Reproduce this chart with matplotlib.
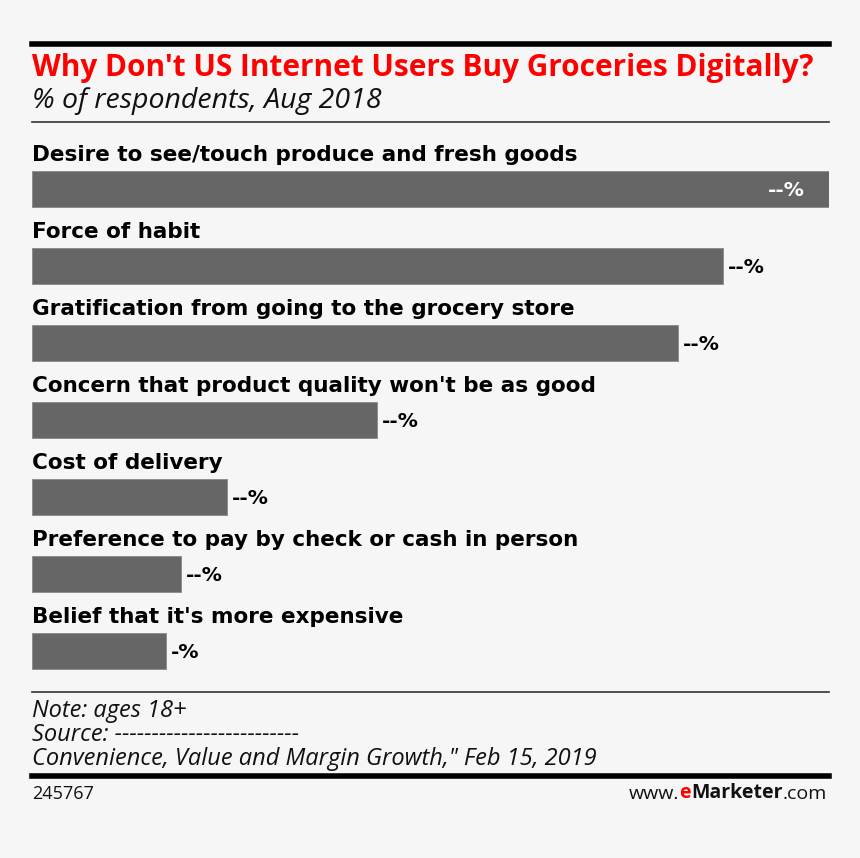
import numpy as np
import matplotlib.pyplot as plt

# Data (values unknown in source, lengths read as relative bar sizes)
categories = [
    "Desire to see/touch produce and fresh goods",
    "Force of habit",
    "Gratification from going to the grocery store",
    "Concern that product quality won't be as good",
    "Cost of delivery",
    "Preference to pay by check or cash in person",
    "Belief that it's more expensive",
]
values = [100, 86.7, 81.1, 43.3, 24.5, 18.7, 16.8]
value_labels = ["--%", "--%", "--%", "--%", "--%", "--%", "-%"]

W, H = 860, 858
bg = "#f6f6f6"
bar_color = "#666666"

narrow = "Open Sans"
wide = "DejaVu Sans"

fig = plt.figure(figsize=(W / 100, H / 100), dpi=100, facecolor=bg)


def fx(px):
    return px / W


def fy(py):
    return 1 - py / H


# rules
fig.add_artist(plt.Line2D([fx(32), fx(829)], [fy(44), fy(44)], color="black", lw=4))
fig.add_artist(plt.Line2D([fx(32), fx(829)], [fy(122), fy(122)], color="#333333", lw=1.2))
fig.add_artist(plt.Line2D([fx(32), fx(829)], [fy(692), fy(692)], color="#333333", lw=1.2))
fig.add_artist(plt.Line2D([fx(32), fx(829)], [fy(776), fy(776)], color="black", lw=4))

fig.text(fx(32), fy(68), "Why Don't US Internet Users Buy Groceries Digitally?",
         color="#ff0000", fontsize=21.4, fontweight="bold", family=narrow, va="center")
fig.text(fx(32), fy(101), "% of respondents, Aug 2018",
         color="#111111", fontsize=20.5, style="italic", family=narrow, va="center")

# bars
ax = fig.add_axes([fx(32), fy(680), fx(797), (680 - 135) / H])
ax.set_facecolor(bg)
y = np.arange(len(categories))
ax.barh(y, values, height=36 / 77, color=bar_color, edgecolor="#8a8a8a", linewidth=0.6)
ax.set_xlim(0, max(values))
ax.set_ylim((680 - 189) / 77, (135 - 189) / 77)
ax.axis("off")

for i, (cat, v, lab) in enumerate(zip(categories, values, value_labels)):
    ax.text(0, i - 34 / 77, cat, fontsize=15.5, fontweight="bold", family=wide,
            va="center", ha="left", color="black")
    if i == 0:
        ax.text(v - 3, i + 0.02, lab, fontsize=14.5, fontweight="bold", family=wide,
                va="center", ha="right", color="white")
    else:
        ax.text(v + 0.6, i + 0.02, lab, fontsize=14.5, fontweight="bold", family=wide,
                va="center", ha="left", color="black")

# notes
notes = ["Note: ages 18+", "Source: -------------------------",
         "Convenience, Value and Margin Growth,\" Feb 15, 2019"]
for k, line in enumerate(notes):
    fig.text(fx(32), fy(711 + 24 * k), line, fontsize=17, style="italic",
             family=narrow, va="center", color="#111111")

fig.text(fx(32), fy(794), "245767", fontsize=13, family=narrow, va="center", color="#111111")

t1 = fig.text(fx(629), fy(794), "www.", fontsize=14, family=narrow, va="center", color="#111111")
fig.canvas.draw()
r = fig.canvas.get_renderer()


def place_after(prev, txt):
    bb = prev.get_window_extent(r)
    txt.set_position((bb.x1 / W, bb.y0 / H))
    txt.set_va("bottom")


t2 = fig.text(0, 0, "e", fontsize=14, family=narrow, fontweight="bold", color="#ff0000")
place_after(t1, t2)
t3 = fig.text(0, 0, "Marketer", fontsize=14, family=narrow, fontweight="bold", color="#111111")
place_after(t2, t3)
t4 = fig.text(0, 0, ".com", fontsize=14, family=narrow, color="#111111")
place_after(t3, t4)

fig.savefig("out.png", dpi=100, facecolor=bg)
